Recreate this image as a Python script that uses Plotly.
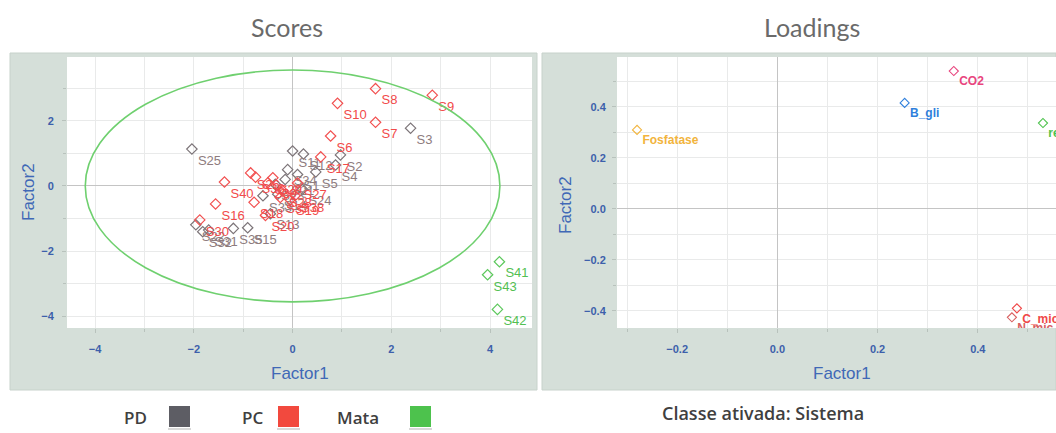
import plotly.graph_objects as go

W, H = 1056, 433

# ---- Scores (sample coordinates on Factor1 / Factor2) ----
score_names = [
    "S1", "S2", "S3", "S4", "S5", "S6", "S7", "S8", "S9", "S10",
    "S11", "S12", "S13", "S14", "S15", "S16", "S17", "S18", "S19", "S20",
    "S21", "S22", "S23", "S24", "S25", "S26", "S27", "S28", "S29", "S30",
    "S31", "S32", "S33", "S34", "S35", "S36", "S37", "S38", "S39", "S40",
    "S41", "S42", "S43",
]
score_f1 = [
    0.10, 0.97, 2.39, 0.87, 0.47, 0.77, 1.68, 1.68, 2.83, 0.91,
    0.00, 0.22, -0.45, -0.30, -0.91, -1.56, 0.57, -0.78, -0.05, -0.55,
    -0.15, -1.96, -0.35, 0.20, -2.04, -0.85, 0.10, -0.20, -0.40, -1.88,
    -1.70, -1.82, -0.60, -0.10, -1.20, -0.75, -0.25, 0.05, -0.50, -1.38,
    4.19, 4.15, 3.95,
]
score_f2 = [
    0.35, 0.95, 1.77, 0.64, 0.43, 1.53, 1.95, 2.98, 2.78, 2.53,
    1.07, 0.98, -0.85, -0.25, -1.28, -0.55, 0.89, -0.50, -0.42, -0.90,
    0.20, -1.19, 0.05, -0.10, 1.13, 0.40, 0.09, -0.15, 0.25, -1.04,
    -1.35, -1.40, -0.30, 0.50, -1.30, 0.27, -0.35, -0.30, 0.10, 0.12,
    -2.32, -3.78, -2.72,
]
score_group = [
    "PD", "PD", "PD", "PD", "PD", "PC", "PC", "PC", "PC", "PC",
    "PD", "PD", "PD", "PD", "PD", "PC", "PC", "PC", "PC", "PC",
    "PD", "PD", "PD", "PD", "PD", "PC", "PC", "PC", "PC", "PC",
    "PD", "PD", "PD", "PD", "PD", "PC", "PC", "PC", "PC", "PC",
    "Mata", "Mata", "Mata",
]

# Confidence ellipse half-axes on the score plot
ellipse_f1 = 4.2
ellipse_f2 = 3.55

# ---- Loadings (variables) ----
load_names = ["Fosfatase", "B_gli", "CO2", "resp", "C_mic", "N_mic"]
load_f1 = [-0.28, 0.254, 0.352, 0.530, 0.478, 0.468]
load_f2 = [0.31, 0.416, 0.541, 0.337, -0.390, -0.425]
load_colors = ["#f2b43c", "#2f7fdc", "#e8457e", "#4cc24c", "#f04848", "#d86060"]

groups = ["PD", "PC", "Mata"]
group_marker = {"PD": "#7c7478", "PC": "#f25050", "Mata": "#5cc85c"}
group_text = {"PD": "#8e7c7e", "PC": "#f24a4a", "Mata": "#52c052"}
legend_swatch = {"PD": "#5d5d64", "PC": "#f2493e", "Mata": "#4dc24d"}

TICK_BLUE = "#3d5fab"
TITLE_BLUE = "#4068b6"
PANEL_BG = "#d5dfd9"
GRID = "#e9eaea"
ZERO = "#c4c4c4"

# plot-area pixel boxes
SC_L, SC_R = 67, 532
LD_L, LD_R = 617, 1056
PA_T, PA_B = 57, 328


def px(x):
    return x / W


def py(y):
    return 1 - y / H


fig = go.Figure()

for g in groups:
    idx = [i for i, gg in enumerate(score_group) if gg == g]
    fig.add_trace(go.Scatter(
        x=[score_f1[i] for i in idx],
        y=[score_f2[i] for i in idx],
        text=[score_names[i] for i in idx],
        mode="markers+text",
        textposition="bottom right",
        textfont=dict(family="Arial", size=13, color=group_text[g]),
        marker=dict(symbol="diamond-open", size=8,
                    line=dict(width=1.2, color=group_marker[g]),
                    color=group_marker[g]),
        xaxis="x", yaxis="y", showlegend=False, cliponaxis=True,
    ))

for name, lx, ly, c in zip(load_names, load_f1, load_f2, load_colors):
    fig.add_trace(go.Scatter(
        x=[lx], y=[ly], text=[name],
        mode="markers+text",
        textposition="bottom right",
        textfont=dict(family="Arial", size=12, color=c, weight="bold"),
        marker=dict(symbol="diamond-open", size=7, line=dict(width=1.1, color=c), color=c),
        xaxis="x2", yaxis="y2", showlegend=False, cliponaxis=True,
    ))

axis_common = dict(
    showgrid=True, gridcolor=GRID, gridwidth=1,
    zeroline=True, zerolinecolor=ZERO, zerolinewidth=1,
    showline=False, ticks="outside", ticklen=4, tickcolor="#b8c2bc",
    tickfont=dict(family="Arial", size=11, color=TICK_BLUE, weight="bold"),
)
minor_common = dict(showgrid=True, gridcolor=GRID, ticks="outside",
                    ticklen=3, tickcolor="#b8c2bc")

y_dom = [py(PA_B), py(PA_T)]

fig.update_layout(
    width=W, height=H,
    margin=dict(l=0, r=0, t=0, b=0),
    paper_bgcolor="white", plot_bgcolor="white",
    xaxis=dict(domain=[px(SC_L), px(SC_R)], range=[-4.57, 4.85], dtick=2, tick0=0,
               minor=dict(dtick=1, **minor_common), ticklabelstandoff=7,
               anchor="y", **axis_common),
    yaxis=dict(domain=y_dom, range=[-4.35, 3.95], dtick=2, tick0=0,
               minor=dict(dtick=1, **minor_common), ticklabelstandoff=6,
               anchor="x", **axis_common),
    xaxis2=dict(domain=[px(LD_L), px(LD_R)], range=[-0.32, 0.556], dtick=0.2, tick0=0,
                tickformat=".1f", minor=dict(dtick=0.1, **minor_common),
                ticklabelstandoff=7, anchor="y2", **axis_common),
    yaxis2=dict(domain=y_dom, range=[-0.467, 0.596], dtick=0.2, tick0=0,
                tickformat=".1f", minor=dict(dtick=0.1, **minor_common),
                ticklabelstandoff=4, anchor="x2", **axis_common),
)

shapes = [
    # panel backgrounds
    dict(type="rect", xref="paper", yref="paper", x0=px(10), x1=px(537),
         y0=py(390), y1=py(53), fillcolor=PANEL_BG,
         line=dict(color="#c7d2cb", width=1), layer="below"),
    dict(type="rect", xref="paper", yref="paper", x0=px(542), x1=1.0,
         y0=py(390), y1=py(53), fillcolor=PANEL_BG,
         line=dict(color="#c7d2cb", width=1), layer="below"),
    # white plotting areas
    dict(type="rect", xref="paper", yref="paper", x0=px(SC_L), x1=px(SC_R),
         y0=py(PA_B), y1=py(PA_T), fillcolor="white", line=dict(width=0), layer="below"),
    dict(type="rect", xref="paper", yref="paper", x0=px(LD_L), x1=px(LD_R),
         y0=py(PA_B), y1=py(PA_T), fillcolor="white", line=dict(width=0), layer="below"),
    # confidence ellipse on the scores
    dict(type="circle", xref="x", yref="y",
         x0=-ellipse_f1, x1=ellipse_f1, y0=-ellipse_f2, y1=ellipse_f2,
         line=dict(color="#6fd06f", width=1.6), layer="above"),
]

# legend swatches
swatch_x = {"PD": 168, "PC": 277, "Mata": 409}
for g in groups:
    x0 = swatch_x[g]
    shapes.append(dict(type="rect", xref="paper", yref="paper",
                       x0=px(x0), x1=px(x0 + 23), y0=py(430), y1=py(428),
                       fillcolor="#d8d8d8", line=dict(width=0), layer="below"))
    shapes.append(dict(type="rect", xref="paper", yref="paper",
                       x0=px(x0 + 1), x1=px(x0 + 22), y0=py(427), y1=py(406),
                       fillcolor=legend_swatch[g], line=dict(width=0)))
fig.update_layout(shapes=shapes)

title_font = dict(family="Lato", size=25, color="#6a6a6a")
axis_title_font = dict(family="Arial", size=17, color=TITLE_BLUE)
legend_font = dict(family="Open Sans", size=17, color="#3f3f3f", weight=600)

annotations = [
    dict(text="Scores", x=px(287), y=py(27), font=title_font),
    dict(text="Loadings", x=px(812), y=py(27), font=title_font),
    dict(text="Factor1", x=px(300), y=py(373), font=axis_title_font),
    dict(text="Factor1", x=px(842), y=py(373), font=axis_title_font),
    dict(text="Factor2", x=px(29), y=py(192), textangle=-90, font=axis_title_font),
    dict(text="Factor2", x=px(565), y=py(205), textangle=-90, font=axis_title_font),
    dict(text="PD", x=px(135), y=py(417), font=legend_font),
    dict(text="PC", x=px(252), y=py(417), font=legend_font),
    dict(text="Mata", x=px(358), y=py(417), font=legend_font),
    dict(text="Classe ativada: Sistema", x=px(763), y=py(413),
         font=dict(family="Open Sans", size=18, color="#3f3f3f", weight=600)),
]
for a in annotations:
    a.update(xref="paper", yref="paper", showarrow=False, xanchor="center", yanchor="middle")
fig.update_layout(annotations=annotations)

fig.write_html("out.html")
